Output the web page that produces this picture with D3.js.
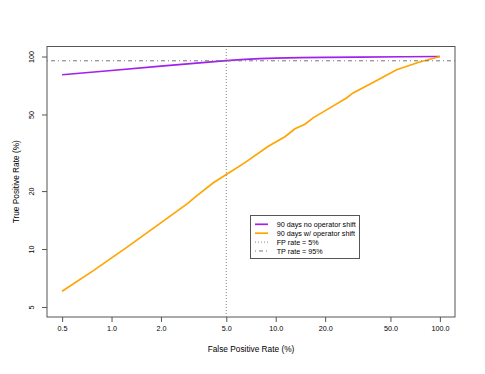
<!DOCTYPE html>
<html>
<head>
<meta charset="utf-8">
<script src="https://cdn.jsdelivr.net/npm/d3@7"></script>
<style>
  body { margin: 0; background: #fff; }
  text { font-family: "Liberation Sans", Arial, sans-serif; fill: #000; }
</style>
</head>
<body>
<div id="chart"></div>
<script>
// Data (FPR %, TPR %)
var fprNoShift = [0.5, 1.0, 2.0, 5.0, 6.5, 8.0, 10.0, 14.0, 20.0, 32.0, 60.0, 100.0];
var tprNoShift = [80.4, 84.6, 89.1, 95.3, 96.6, 97.4, 98.0, 98.6, 99.0, 99.3, 99.7, 100.0];

var fprShift = [0.5, 0.775, 1.238, 1.975, 2.87, 3.30, 4.17, 5.0, 6.5, 9.01, 11.38, 13.1, 15.07, 16.9, 21.4, 27.0, 29.6, 40.2, 54.5, 73.7, 100.0];
var tprShift = [6.04, 7.72, 10.2, 13.6, 17.1, 18.9, 22.1, 24.4, 28.1, 34.2, 38.3, 42.1, 44.5, 48.0, 54.1, 60.9, 64.7, 74.2, 85.3, 93.1, 100.0];

var xTicks = [0.5, 1, 2, 5, 10, 20, 50, 100];
var yTicks = [5, 10, 20, 50, 100];

var legendLabels = ["90 days no operator shift", "90 days w/ operator shift", "FP rate = 5%", "TP rate = 95%"];

var fpRate = 5, tpRate = 95;

// Space of graph
var width = 485,
    height = 374;
var margin = {left: 47, top: 46.5, right: 30, bottom: 57};

var svg = d3.select("#chart")
            .append("svg")
             .attr("width", width)
             .attr("height", height);

// Scales (log, R style 4% padding)
var scaleX = d3.scaleLog()
               .domain([0.5 / Math.pow(200, 0.04), 100 * Math.pow(200, 0.04)])
               .range([margin.left, width - margin.right]);

var scaleY = d3.scaleLog()
               .domain([5 / Math.pow(20, 0.04), 100 * Math.pow(20, 0.04)])
               .range([height - margin.bottom, margin.top]);

var x0 = margin.left, x1 = width - margin.right,
    y0 = height - margin.bottom, y1 = margin.top;

// Axes
var xAxis = svg.append("g")
               .attr("transform", "translate(0," + y0 + ")")
               .call(d3.axisBottom(scaleX).tickValues(xTicks).tickSize(5).tickPadding(4)
                       .tickFormat(d3.format(".1f")));
var yAxis = svg.append("g")
               .attr("transform", "translate(" + x0 + ",0)")
               .call(d3.axisLeft(scaleY).tickValues(yTicks).tickSize(5).tickFormat(d3.format("d")));

[xAxis, yAxis].forEach(function(a) {
  a.select(".domain").remove();
  a.selectAll("line").attr("stroke", "#555");
  a.selectAll("text").style("font-size", "7.2px").style("font-family", "Liberation Sans, Arial, sans-serif");
});

yAxis.selectAll(".tick text")
     .attr("x", null).attr("dy", null)
     .attr("text-anchor", "middle")
     .attr("transform", "translate(-13,0) rotate(-90)");

// Box
svg.append("rect")
   .attr("x", x0).attr("y", y1)
   .attr("width", x1 - x0).attr("height", y0 - y1)
   .attr("fill", "none").attr("stroke", "#555").attr("stroke-width", 1);

// Axis titles
svg.append("text")
   .attr("x", (x0 + x1) / 2).attr("y", 352)
   .attr("text-anchor", "middle")
   .style("font-size", "8.3px")
   .text("False Positive Rate (%)");

svg.append("text")
   .attr("transform", "translate(19," + ((y0 + y1) / 2) + ") rotate(-90)")
   .attr("text-anchor", "middle")
   .style("font-size", "8.3px")
   .text("True Positive Rate (%)");

// Lines
var line = d3.line()
             .x(function(d) { return scaleX(d[0]); })
             .y(function(d) { return scaleY(d[1]); });

svg.append("path")
   .datum(d3.zip(fprNoShift, tprNoShift))
   .attr("d", line)
   .attr("fill", "none").attr("stroke", "#A020F0").attr("stroke-width", 1.7);

svg.append("path")
   .datum(d3.zip(fprShift, tprShift))
   .attr("d", line)
   .attr("fill", "none").attr("stroke", "#FFA500").attr("stroke-width", 1.7);

// Reference lines
svg.append("line")
   .attr("x1", scaleX(fpRate)).attr("x2", scaleX(fpRate))
   .attr("y1", y0).attr("y2", y1)
   .attr("stroke", "#888").attr("stroke-dasharray", "1,2");

svg.append("line")
   .attr("x1", x0).attr("x2", x1)
   .attr("y1", scaleY(tpRate)).attr("y2", scaleY(tpRate))
   .attr("stroke", "#777").attr("stroke-dasharray", "1,3,4,3");

// Legend
var legend = svg.append("g");
legend.append("rect")
      .attr("x", 250.5).attr("y", 215.5)
      .attr("width", 109).attr("height", 43)
      .attr("fill", "#fff").attr("stroke", "#555");

var legendStyles = [
  {stroke: "#A020F0", width: 1.7, dash: null},
  {stroke: "#FFA500", width: 1.7, dash: null},
  {stroke: "#888", width: 1, dash: "1,2"},
  {stroke: "#777", width: 1, dash: "1,3,4,3"}
];

legendLabels.forEach(function(lab, i) {
  var y = 224.3 + i * 8.9;
  legend.append("line")
        .attr("x1", 255).attr("x2", 268)
        .attr("y1", y).attr("y2", y)
        .attr("stroke", legendStyles[i].stroke)
        .attr("stroke-width", legendStyles[i].width)
        .attr("stroke-dasharray", legendStyles[i].dash);
  legend.append("text")
        .attr("x", 276.7).attr("y", y)
        .attr("dy", "0.35em")
        .style("font-size", "7.2px")
        .text(lab);
});
</script>
</body>
</html>
